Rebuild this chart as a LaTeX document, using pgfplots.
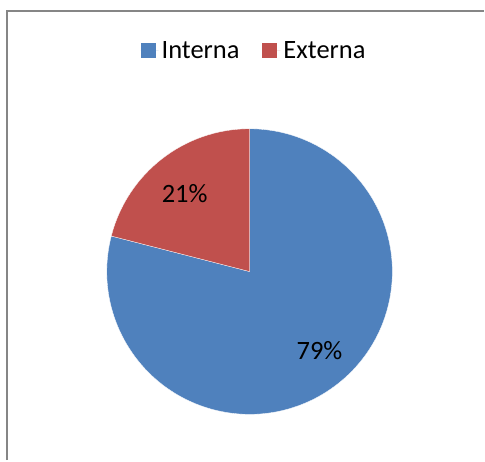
\documentclass[border=0pt]{standalone}
\usepackage{fontspec}
\setmainfont{Carlito}
\usepackage{pgfplots}
\pgfplotsset{compat=1.18}
\definecolor{cInt}{HTML}{4F81BD}
\definecolor{cExt}{HTML}{C0504D}
\definecolor{frameGray}{HTML}{868686}
\begin{document}
\begin{tikzpicture}
% data: Interna 79 %, Externa 21 %
\def\valInt{79}
\def\valExt{21}
\pgfmathsetmacro{\aStart}{90}
\pgfmathsetmacro{\aMid}{90+3.6*\valExt}
\pgfmathsetmacro{\aEnd}{90+3.6*(\valExt+\valInt)}
\begin{axis}[
  scale only axis, width=485pt, height=461pt,
  xmin=0, xmax=485, ymin=0, ymax=461,
  hide axis, clip=false,
  legend columns=2,
  legend image code/.code={\fill[#1] (0pt,-7.5pt) rectangle (15pt,7.5pt); \path (0pt,0pt) -- (18pt,0pt);},
  legend style={at={(axis cs:255,410)}, anchor=center, draw=none, fill=none,
    font=\fontsize{26.5}{30}\selectfont, inner sep=0pt,
    /tikz/every even column/.append style={column sep=20pt},
    nodes={inner sep=3pt}},
  legend cell align=left,
]
\path (axis cs:0,0) rectangle (axis cs:485,461);
\addlegendimage{fill=cInt, draw=none}
\addlegendentry{Interna}
\addlegendimage{fill=cExt, draw=none}
\addlegendentry{Externa}
% pie slices
\fill[cInt, draw=white, line width=0.3pt] (axis cs:250,189) -- ++(\aMid:143pt) arc[start angle=\aMid, end angle=\aEnd, radius=143pt] -- cycle;
\fill[cExt, draw=white, line width=0.3pt] (axis cs:250,189) -- ++(\aStart:143pt) arc[start angle=\aStart, end angle=\aMid, radius=143pt] -- cycle;
\node[font=\fontsize{26.5}{30}\selectfont] at (axis cs:185,267) {21\%};
\node[font=\fontsize{26.5}{30}\selectfont] at (axis cs:320,110) {79\%};
% chart frame
\draw[frameGray, line width=1.6pt] (axis cs:7,0) -- (axis cs:7,450) -- (axis cs:485,450);
\end{axis}
\end{tikzpicture}
\end{document}
